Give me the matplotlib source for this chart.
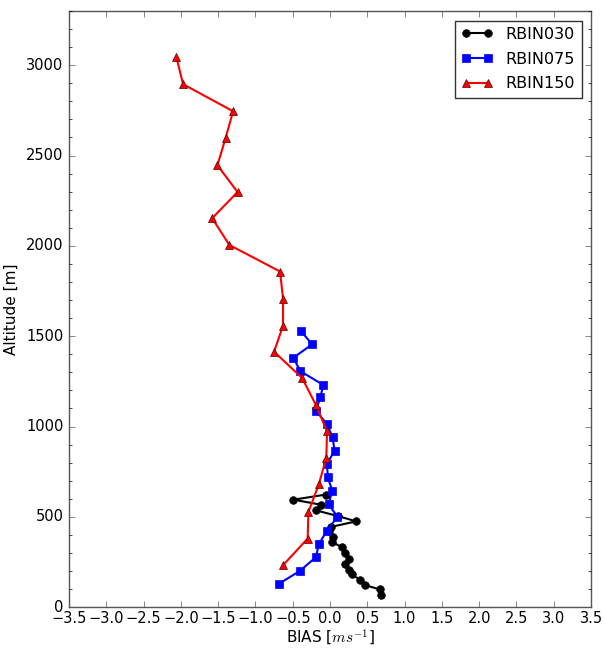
import numpy as np
import matplotlib
matplotlib.use('Agg')
import matplotlib.pyplot as plt
from matplotlib.ticker import MultipleLocator

# RBIN030 (30 m bins)
alt030 = [623, 595, 567, 536, 504, 475, 444, 420, 389, 361, 333, 300, 269, 241, 208, 181, 153, 122, 98, 66]
bias030 = [-0.06, -0.49, -0.12, -0.19, 0.11, 0.35, 0.01, -0.02, 0.045, 0.02, 0.16, 0.20, 0.26, 0.20, 0.26, 0.29, 0.40, 0.47, 0.67, 0.68]

# RBIN075 (75 m bins)
alt075 = [1529, 1455, 1381, 1307, 1230, 1162, 1088, 1013, 940, 867, 793, 718, 645, 569, 501, 422, 348, 277, 202, 128]
bias075 = [-0.39, -0.24, -0.49, -0.40, -0.09, -0.13, -0.19, -0.04, 0.035, 0.06, -0.04, -0.03, 0.03, -0.02, 0.10, -0.045, -0.15, -0.19, -0.40, -0.69]

# RBIN150 (150 m bins)
alt150 = [3045, 2895, 2745, 2597, 2446, 2298, 2153, 2005, 1858, 1708, 1558, 1414, 1269, 1120, 973, 827, 680, 527, 380, 232]
bias150 = [-2.06, -1.97, -1.30, -1.40, -1.51, -1.24, -1.58, -1.35, -0.67, -0.63, -0.63, -0.75, -0.375, -0.19, -0.04, -0.05, -0.15, -0.29, -0.30, -0.63]

plt.style.use('classic')
fig = plt.figure(figsize=(6.05, 6.48), dpi=100, facecolor='white')
ax = fig.add_axes([0.114, 0.063, 0.863, 0.920])

ax.plot(bias030, alt030, '-o', color='black', mec='black', ms=5.5, lw=1.5, label='RBIN030')
ax.plot(bias075, alt075, '-s', color='blue', mec='blue', ms=5.5, lw=1.5, label='RBIN075')
ax.plot(bias150, alt150, '-^', color='red', mec='#550000', ms=5.5, lw=1.5, label='RBIN150')

ax.set_xlim(-3.5, 3.5)
ax.set_ylim(0, 3300)
ax.xaxis.set_major_locator(MultipleLocator(0.5))
ax.yaxis.set_major_locator(MultipleLocator(500))
ax.yaxis.set_minor_locator(MultipleLocator(100))
ax.set_xlabel(r'BIAS [$ms^{-1}$]', fontsize=11, labelpad=1)
ax.set_ylabel('Altitude [m]', fontsize=11)
for s in ax.spines.values():
    s.set_color('#555555')
ax.tick_params(colors='#555555', labelcolor='black', labelsize=10.5)
ax.tick_params(axis='x', pad=3)

leg = ax.legend(loc='upper right', numpoints=2, fontsize=11.5, handlelength=2.0,
                handletextpad=0.8, labelspacing=0.6, borderaxespad=0.6)
leg.get_frame().set_edgecolor('#333333')

fig.savefig('out.png', dpi=100, facecolor='white')
